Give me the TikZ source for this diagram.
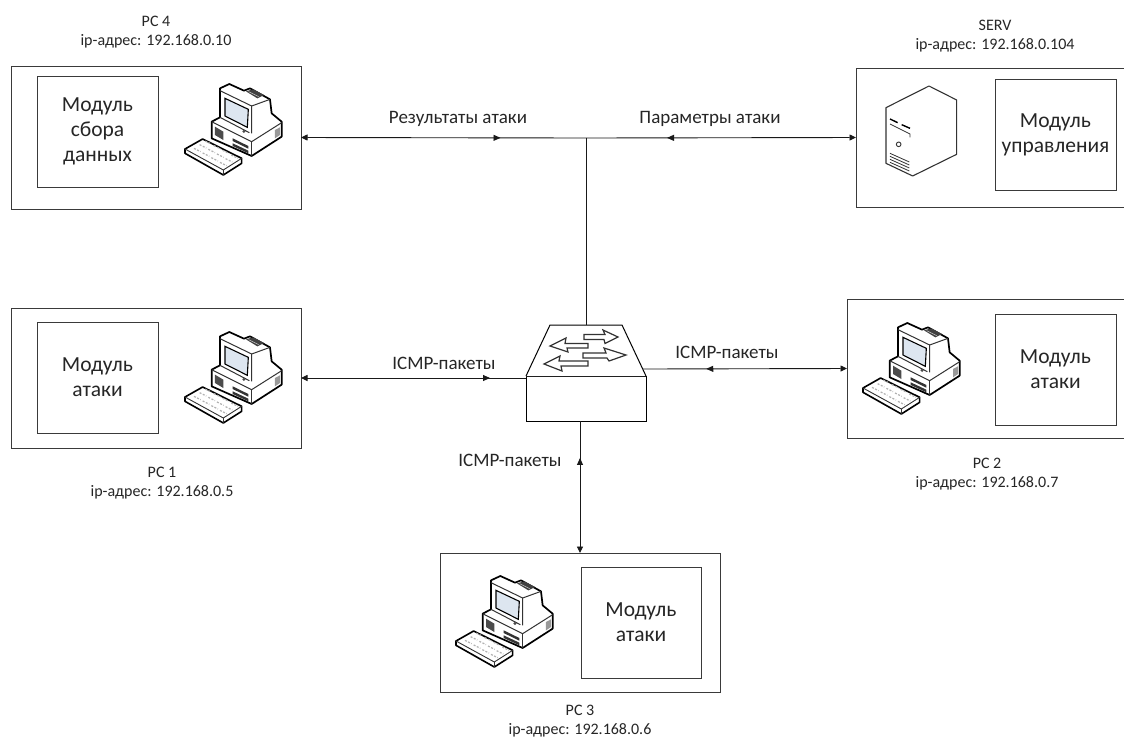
\documentclass[tikz,border=0pt]{standalone}
\usepackage{fontspec}
\setmainfont{Carlito}
\usetikzlibrary{arrows.meta,decorations.markings}
\definecolor{boxline}{HTML}{3A3A3A}
\definecolor{scr}{HTML}{DDE6F0}
\tikzset{
  x=1pt,y=-1pt,
  outerbox/.style={draw=boxline,line width=1pt,fill=white,anchor=north west,inner sep=0pt,outer sep=0pt},
  modbox/.style={outerbox,align=center,font=\fontsize{21.5}{25}\selectfont,text=black!85},
  captext/.style={align=center,font=\fontsize{16}{19.5}\selectfont,text=black!85,inner sep=0pt},
  lab/.style={font=\fontsize{19}{22}\selectfont,text=black!85,inner sep=0pt},
  link/.style={draw=black!90,line width=.9pt,{Triangle[length=6.5pt,width=6pt]}-},
  plainline/.style={draw=black!90,line width=.9pt},
  midfwd/.style={postaction={decorate},decoration={markings,mark=at position #1 with {\arrow{Triangle[length=7pt,width=6pt]}}}},
  icon/.style={draw=black,line width=1pt,line join=round,fill=white},
  thin icon/.style={draw=black!80,line width=.6pt,line join=round},
}
\newcommand{\pcicon}[2]{%
\begin{scope}[shift={(#1,#2)},x=.3333pt,y=-.3333pt]
  % keyboard
  \draw[icon,line width=1.6pt] (45,237)--(98,207)--(215,265)--(215,280)--(160,315)--(45,250)--cycle;
  \draw[thin icon,line width=.9pt] (45,237)--(160,300)--(215,265);
  \draw[thin icon,line width=.9pt] (160,300)--(160,315);
  \foreach \a/\b in {0/0,1/0,2/0,3/0,0/1,1/1,2/1,3/1,0/2,1/2,2/2,3/2}{
    \draw[black!30,line width=1.2pt,dash pattern=on 2pt off 1.5pt]
      ({72+26*\a+17*\b},{231+14*\a-11*\b+4})--++(20,10);
  }
  % base and monitor silhouette
  \draw[icon,line width=1.7pt] (150,55)--(178,42)--(222,62)--(240,55)--(300,88)--(305,130)--(335,155)--(335,200)--(245,258)--(125,205)--(125,155)--(150,142)--cycle;
  \draw[thin icon,line width=1pt] (150,62)--(245,108)--(245,190);
  \draw[thin icon,line width=1pt] (245,108)--(300,88);
  \draw[thin icon,line width=1pt] (150,142)--(238,188);
  \draw[thin icon,line width=1pt] (125,155)--(245,215)--(335,158);
  \draw[thin icon,line width=1.2pt] (245,215)--(245,258);
  % screen
  \draw[draw=black,fill=scr,line width=1.1pt] (165,85)--(235,118)--(232,172)--(165,138)--cycle;
  % vent on top
  \fill[black!75] (228,64)--(250,58)--(282,75)--(262,85)--cycle;
  \draw[black!15,line width=.5pt] (236,65)--(266,80);
  % front details
  \fill[black!70] (135,170)--(160,185)--(160,210)--(135,195)--cycle;
  \fill[black!80] (188,205)--(235,228)--(235,236)--(188,213)--cycle;
  \fill[black!80] (188,220)--(235,242)--(235,250)--(188,228)--cycle;
  \fill[black!70] (222,184) circle[radius=5];
  % side panel
  \fill[black!40] (315,180)--(330,172)--(330,195)--(315,205)--cycle;
\end{scope}}
\newcommand{\servicon}[2]{%
\begin{scope}[shift={(#1,#2)},x=.3333pt,y=-.3333pt]
  \draw[icon,line width=1.1pt,draw=black!80] (168,323)--(297,258)--(380,300)--(380,463)--(248,528)--(168,490)--cycle;
  \draw[black,line width=1.4pt] (180,357)--(203,368);
  \draw[black,line width=1.4pt] (215,374)--(240,385);
  \draw[thin icon,line width=.8pt] (180,372)--(240,402)--(240,412);
  \draw[thin icon,line width=.9pt] (206,433) circle[radius=7];
  \foreach \d in {0,9,18,27}{\draw[thin icon,line width=.8pt] (180,{460+\d})--(238,{486+\d});}
\end{scope}}
\begin{document}
\begin{tikzpicture}
\useasboundingbox (0,0) rectangle (1124,740);
\fill[white] (0,0) rectangle (1124,740);

% outer boxes
\node[outerbox,minimum width=290pt,minimum height=143pt] (pc4) at (11,66) {};
\node[outerbox,minimum width=290pt,minimum height=140pt] (pc1) at (11,308) {};
\node[outerbox,minimum width=280pt,minimum height=139pt] (pc2) at (847,299) {};
\node[outerbox,minimum width=275pt,minimum height=139pt] (serv) at (856,68) {};
\node[outerbox,minimum width=280pt,minimum height=139pt] (pc3) at (440,553) {};

% module boxes
\node[modbox,minimum width=121pt,minimum height=111pt] (m4) at (37,76) {Модуль\\сбора\\данных};
\node[modbox,minimum width=121pt,minimum height=111pt] (m1) at (37,322) {Модуль\\атаки};
\node[modbox,minimum width=121pt,minimum height=111pt] (m2) at (995,314) {Модуль\\атаки};
\node[modbox,minimum width=121pt,minimum height=111pt] (ms) at (995,79) {Модуль\\управления};
\node[modbox,minimum width=120pt,minimum height=111pt] (m3) at (581,567) {Модуль\\атаки};

% icons
\pcicon{170}{70}
\pcicon{170}{318}
\pcicon{848}{309}
\pcicon{441}{562}
\servicon{830}{0}

% switch
\node[outerbox,draw=black,minimum width=120pt,minimum height=45pt] (sw) at (526,376) {};
\draw[draw=black,line width=1pt,fill=white] (sw.north west)--(550,325)--(622,325)--(sw.north east);
\foreach \p in {
 {(584,334.5)--(605,334.5)--(603,330)--(618,337)--(605,343.5)--(604,339.5)--(584,339.5)},
 {(588,343.5)--(588,348)--(567,348)--(568,352)--(550,346)--(566,338)--(565,343.5)},
 {(583,353)--(606,353)--(604,348)--(626,355)--(609,361)--(607,358)--(583,358)},
 {(588,361)--(588,366)--(561,366)--(562,371)--(544,364)--(560,356)--(559,361)}}{
  \draw[draw=black!80,line width=1.2pt,line join=miter,fill=white] \p --cycle;
}

% connection points
\coordinate (bus) at (586,138);
\coordinate (swtop) at (586,325);
\coordinate (swleft) at (526,378);
\coordinate (swright) at (643,369);
\coordinate (swbot) at (580,421);

% connectors
\draw[link,midfwd=.70] (pc4.east) -- (bus);
\draw[link,midfwd=.70] (serv.west) -- (bus);
\draw[plainline] (bus) -- (swtop);
\draw[link,midfwd=.84] (pc1.east) -- (swleft);
\draw[link,midfwd=.69] (pc2.west) -- (swright);
\draw[link,midfwd=.72] (pc3.north) -- (swbot);

% captions
\node[captext] (c4) at (156,32) {PC 4\\ip-адрес: 192.168.0.10};
\node[captext] (cs) at (995,36) {SERV\\ip-адрес: 192.168.0.104};
\node[captext] (c1) at (162,483) {PC 1\\ip-адрес: 192.168.0.5};
\node[captext] (c2) at (987,474) {PC 2\\ip-адрес: 192.168.0.7};
\node[captext] (c3) at (580,721) {PC 3\\ip-адрес: 192.168.0.6};

% labels
\node[lab] (l1) at (458,119) {Результаты атаки};
\node[lab] (l2) at (710,119) {Параметры атаки};
\node[lab] (l3) at (444,363) {ICMP-пакеты};
\node[lab] (l4) at (727,352) {ICMP-пакеты};
\node[lab] (l5) at (510,460) {ICMP-пакеты};
\end{tikzpicture}
\end{document}
